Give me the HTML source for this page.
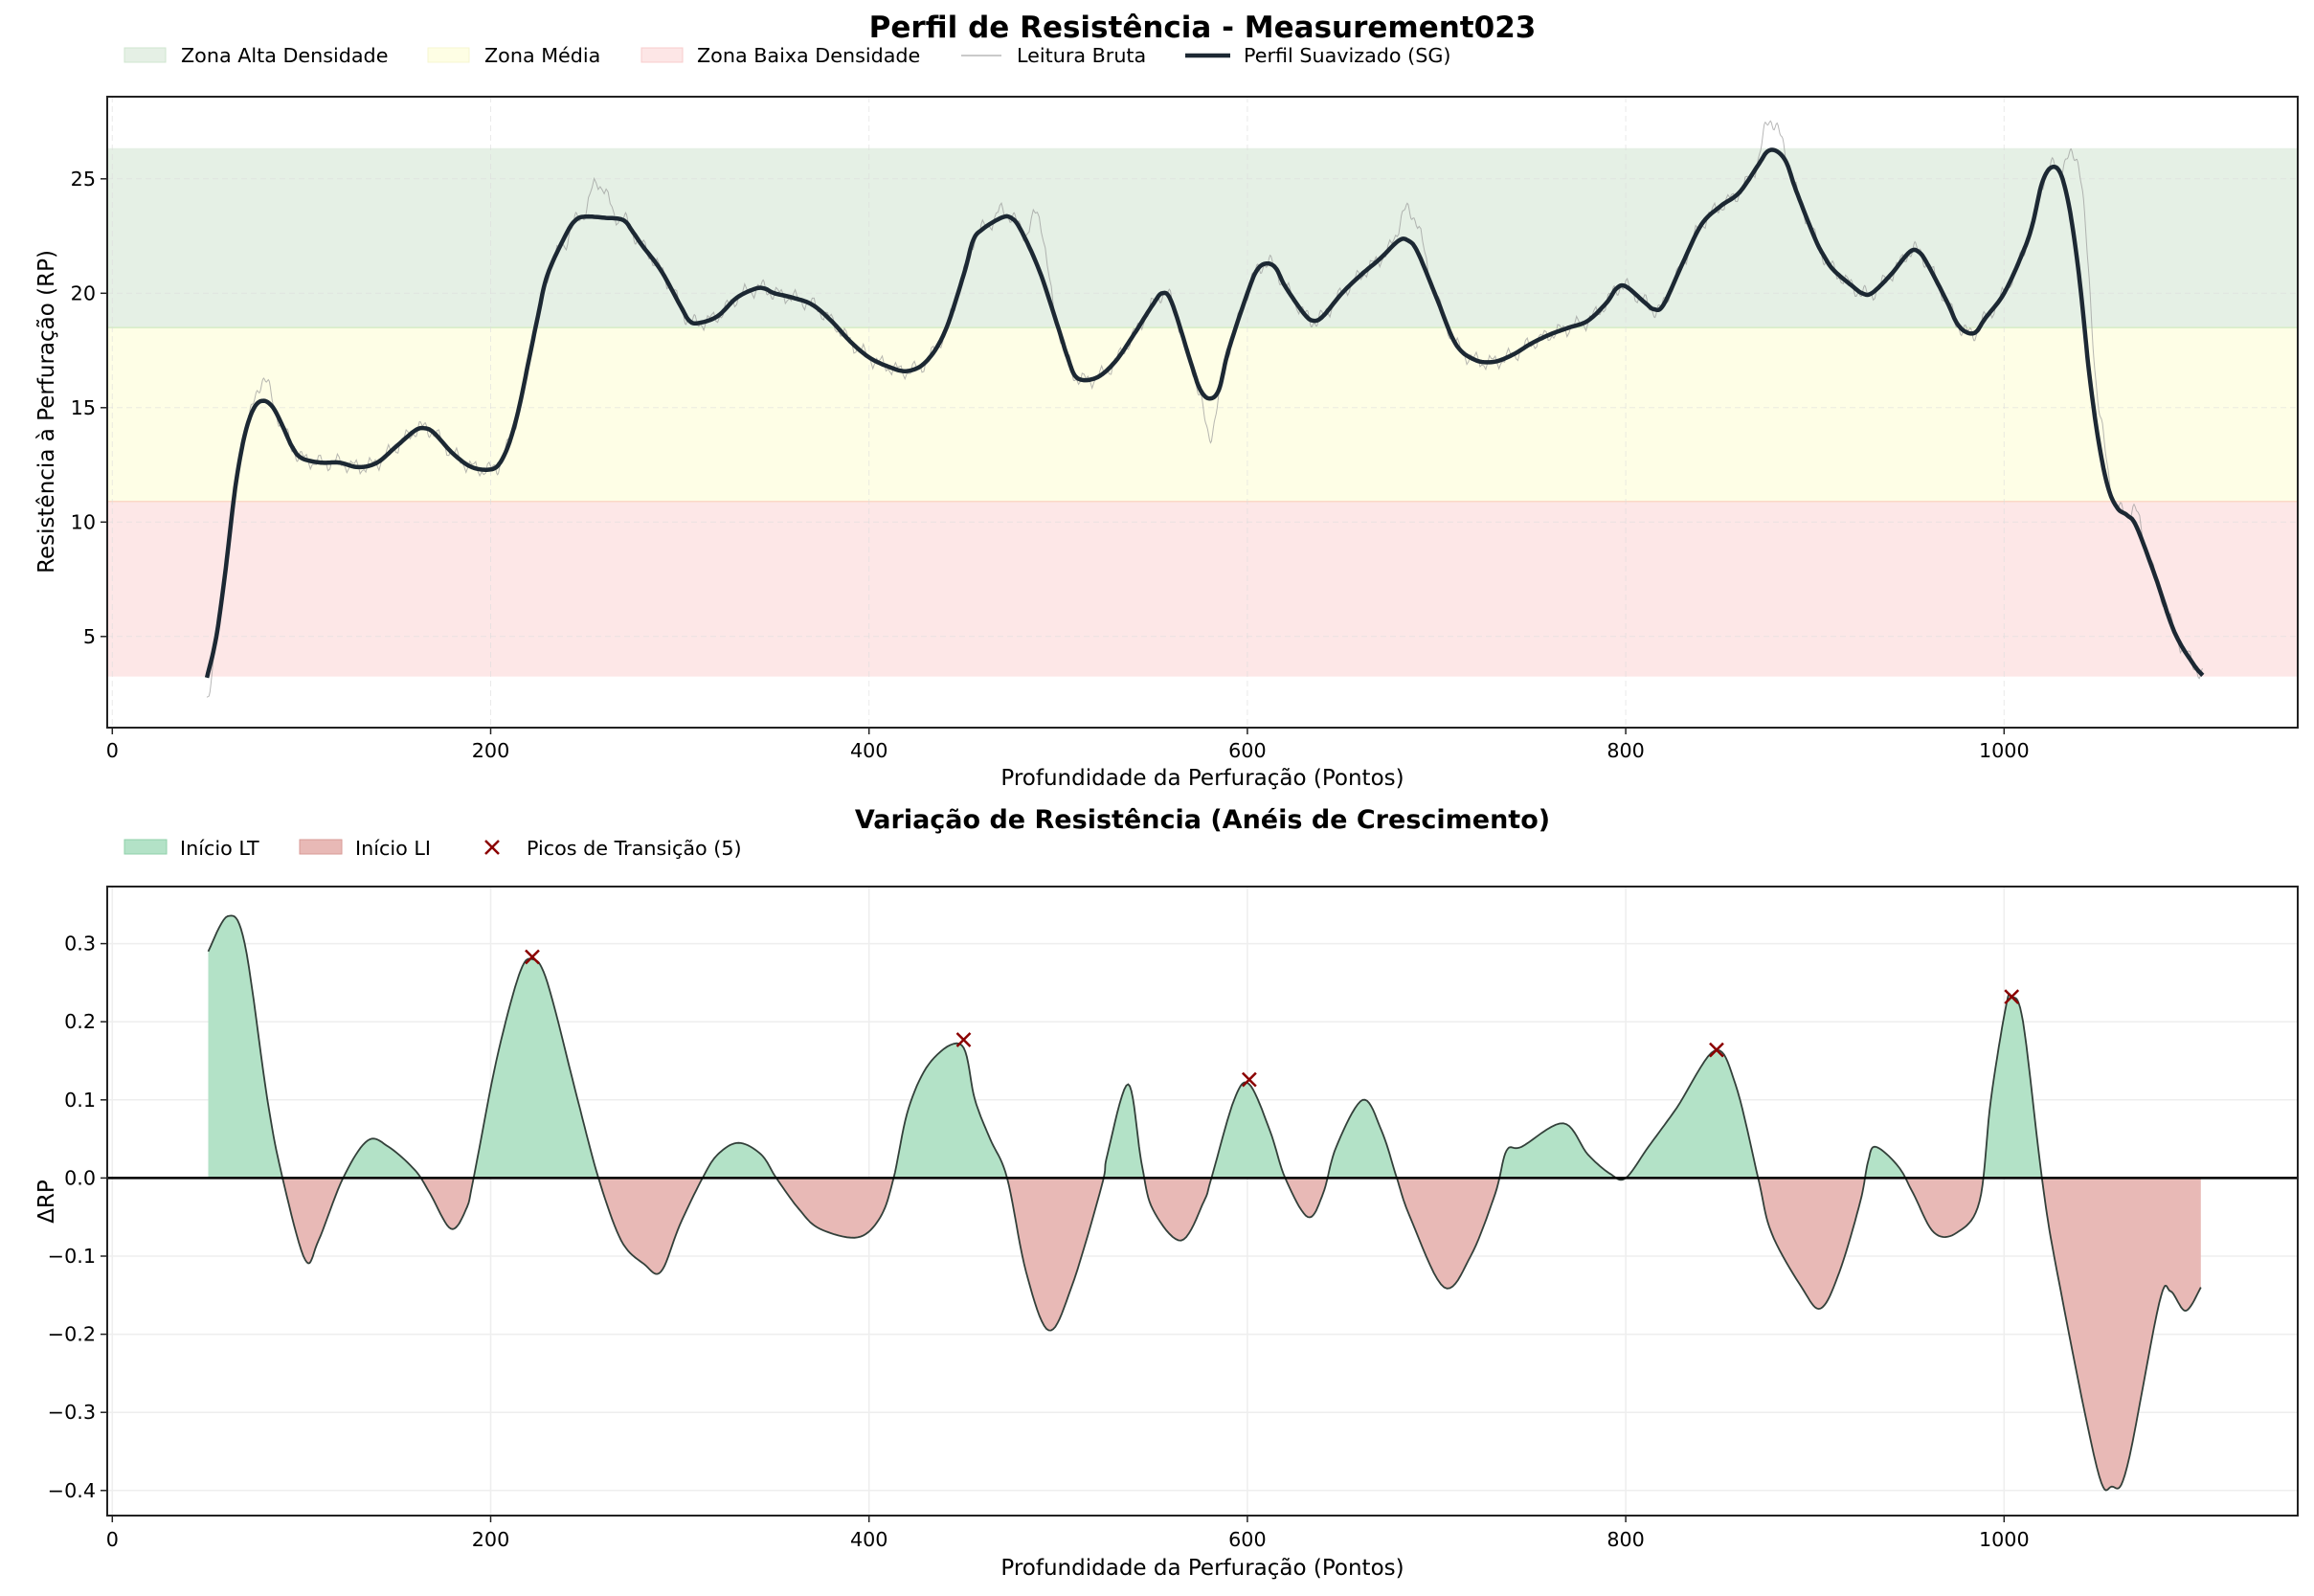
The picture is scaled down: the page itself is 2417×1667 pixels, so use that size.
<!DOCTYPE html>
<html><head><meta charset="utf-8"><style>
html,body{margin:0;padding:0;background:#fff}
svg{display:block}
text{font-family:"DejaVu Sans","Liberation Sans",sans-serif;fill:#000}
</style></head><body>
<svg id="s" width="2417" height="1667" xmlns="http://www.w3.org/2000/svg">
<defs>
<clipPath id="c1"><rect x="112" y="101" width="2288" height="659"/></clipPath>
<clipPath id="pos"><rect x="112" y="926" width="2288" height="304.4"/></clipPath>
<clipPath id="neg"><rect x="112" y="1230.4" width="2288" height="353"/></clipPath>
</defs>
<text x="1256" y="39" font-size="31" font-weight="bold" text-anchor="middle">Perfil de Resistência - Measurement023</text>
<rect x="130" y="50" width="43" height="15" fill="#e5f0e5" stroke="#cfe6cf"/>
<text x="189" y="65" font-size="20.7">Zona Alta Densidade</text>
<rect x="447" y="50" width="43" height="15" fill="#fefee4" stroke="#f6f6d0"/>
<text x="506" y="65" font-size="20.7">Zona Média</text>
<rect x="670" y="50" width="43" height="15" fill="#fde6e6" stroke="#f8cccc"/>
<text x="728" y="65" font-size="20.7">Zona Baixa Densidade</text>
<line x1="1004" y1="58" x2="1046" y2="58" stroke="#aaa" stroke-width="1.2"/>
<text x="1062" y="65" font-size="20.7">Leitura Bruta</text>
<line x1="1238" y1="58" x2="1285" y2="58" stroke="#1c2833" stroke-width="4.5"/>
<text x="1299" y="65" font-size="20.7">Perfil Suavizado (SG)</text>
<g id="gtop"></g>
<text x="1256" y="865" font-size="27" font-weight="bold" text-anchor="middle">Variação de Resistência (Anéis de Crescimento)</text>
<rect x="130" y="877" width="44" height="15" fill="#b3e2c7" stroke="#8fd0aa"/>
<text x="188" y="893" font-size="20.7">Início LT</text>
<rect x="313" y="877" width="44" height="15" fill="#e8b9b6" stroke="#d99a96"/>
<text x="371" y="893" font-size="20.7">Início LI</text>
<path d="M507 878 L521 892 M521 878 L507 892" stroke="#8b0000" stroke-width="2.5"/>
<text x="550" y="893" font-size="20.7">Picos de Transição (5)</text>
<g id="gbot"></g>
<text x="1256" y="820" font-size="23" text-anchor="middle">Profundidade da Perfuração (Pontos)</text>
<text x="1256" y="1645" font-size="23" text-anchor="middle">Profundidade da Perfuração (Pontos)</text>
<text transform="translate(56,430) rotate(-90)" font-size="23" text-anchor="middle">Resistência à Perfuração (RP)</text>
<text transform="translate(56,1255) rotate(-90)" font-size="23" text-anchor="middle">ΔRP</text>
</svg>
<script>
(function(){
var NS="http://www.w3.org/2000/svg";
function X(d){return 117.3+1.976*d}
function Y1(v){return 784.3-23.9*v}
function Y2(v){return 1230.4-816*v}
function el(p,t,a,txt){var e=document.createElementNS(NS,t);for(var k in a)e.setAttribute(k,a[k]);if(txt!=null)e.textContent=txt;p.appendChild(e);return e}
function cr(pts){
 var out=[];for(var i=0;i<pts.length-1;i++){var p0=pts[Math.max(0,i-1)],p1=pts[i],p2=pts[i+1],p3=pts[Math.min(pts.length-1,i+2)];
 for(var j=0;j<10;j++){var t=j/10,t2=t*t,t3=t2*t;
  var f=function(a,b,c,d){return 0.5*(2*b+(-a+c)*t+(2*a-5*b+4*c-d)*t2+(-a+3*b-3*c+d)*t3)};
  out.push([f(p0[0],p1[0],p2[0],p3[0]),f(p0[1],p1[1],p2[1],p3[1])]);}}
 out.push(pts[pts.length-1]);return out}
var S=[[50,3.2],[55,5],[60,8],[65,11.5],[70,13.8],[75,15],[80,15.3],[85,15],[90,14.2],[95,13.3],[100,12.8],[110,12.6],[120,12.6],[130,12.4],[140,12.6],[150,13.3],[160,14],[165,14.1],[170,13.9],[180,13],[190,12.4],[200,12.3],[205,12.6],[210,13.5],[215,15],[220,17],[225,19],[230,20.8],[240,22.6],[245,23.2],[250,23.35],[260,23.3],[270,23.2],[275,22.7],[280,22.1],[290,21],[300,19.5],[305,18.8],[310,18.7],[320,19],[330,19.8],[340,20.2],[345,20.2],[350,20],[360,19.8],[370,19.5],[380,18.8],[390,17.9],[400,17.2],[410,16.8],[420,16.6],[430,17],[440,18.3],[450,20.8],[455,22.3],[460,22.8],[470,23.3],[475,23.3],[480,22.8],[490,21],[500,18.5],[505,17.2],[510,16.3],[520,16.3],[530,17],[540,18.2],[550,19.5],[555,20],[560,19.6],[570,17],[575,15.8],[580,15.4],[585,15.8],[590,17.5],[600,20],[605,21],[610,21.3],[615,21.1],[620,20.3],[630,19.1],[635,18.8],[640,19],[650,20],[660,20.8],[670,21.5],[680,22.3],[685,22.3],[690,21.8],[700,19.8],[710,17.8],[720,17.1],[730,17],[740,17.3],[750,17.8],[760,18.2],[770,18.5],[780,18.8],[790,19.6],[795,20.2],[800,20.3],[810,19.6],[815,19.3],[820,19.5],[830,21.3],[840,23],[850,23.8],[860,24.4],[870,25.6],[875,26.2],[880,26.2],[885,25.7],[890,24.5],[900,22.4],[905,21.6],[910,21],[920,20.3],[925,20],[930,20],[940,20.8],[950,21.8],[955,21.8],[960,21.2],[970,19.6],[975,18.7],[980,18.3],[985,18.3],[990,18.9],[1000,20],[1010,21.8],[1015,23],[1020,24.8],[1025,25.5],[1030,25.2],[1035,23.5],[1040,20.5],[1045,16.5],[1050,13.5],[1055,11.5],[1060,10.6],[1065,10.3],[1070,9.8],[1080,7.6],[1090,5.2],[1100,3.8],[1105,3.3]];
var g1=document.getElementById('gtop');
el(g1,'rect',{x:112,y:Y1(26.34),width:2288,height:Y1(18.5)-Y1(26.34),fill:'#e5f0e5'});
el(g1,'rect',{x:112,y:Y1(18.5),width:2288,height:Y1(10.9)-Y1(18.5),fill:'#fefee6'});
el(g1,'rect',{x:112,y:Y1(10.9),width:2288,height:Y1(3.25)-Y1(10.9),fill:'#fde7e7'});
el(g1,'line',{x1:112,x2:2400,y1:Y1(18.5),y2:Y1(18.5),stroke:'#d6ecc6','stroke-width':1.5});
el(g1,'line',{x1:112,x2:2400,y1:Y1(10.9),y2:Y1(10.9),stroke:'#fbd9c6','stroke-width':1.5});
[5,10,15,20,25].forEach(function(v){el(g1,'line',{x1:112,x2:2400,y1:Y1(v),y2:Y1(v),stroke:'#ddd','stroke-width':1,'stroke-dasharray':'6,4',opacity:0.6});
 el(g1,'line',{x1:105,x2:112,y1:Y1(v),y2:Y1(v),stroke:'#222','stroke-width':1.5});
 el(g1,'text',{x:100,y:Y1(v)+7,'font-size':20.7,'text-anchor':'end'},v)});
[0,200,400,600,800,1000].forEach(function(d){el(g1,'line',{x1:X(d),x2:X(d),y1:101,y2:760,stroke:'#ddd','stroke-width':1,'stroke-dasharray':'6,4',opacity:0.6});
 el(g1,'line',{x1:X(d),x2:X(d),y1:760,y2:767,stroke:'#222','stroke-width':1.5});
 el(g1,'text',{x:X(d),y:791,'font-size':20.7,'text-anchor':'middle'},d);});
var dense=cr(S);
var raw=[];var extra={50:-0.9,80:1.0,255:1.2,260:1.0,240:-0.3,470:0.3,488:1.5,492:1.5,580:-1.6,683:1.2,690:1.3,875:1.1,880:0.8,1035:1.6,1040:4,1045:3,1052:1.2,1070:0.6};
var ek=Object.keys(extra).map(Number);
for(var i=0;i<dense.length;i++){var d=dense[i][0],v=dense[i][1];var n=0.25*Math.sin(d*0.7)+0.15*Math.sin(d*1.9+1);
 for(var q=0;q<ek.length;q++){n+=extra[ek[q]]*Math.exp(-Math.pow((d-ek[q])/4,2));}
 raw.push(X(d).toFixed(1)+','+Y1(v+n).toFixed(1))}
el(g1,'polyline',{points:raw.join(' '),fill:'none',stroke:'#999','stroke-width':1,opacity:0.7,'clip-path':'url(#c1)'});
el(g1,'polyline',{points:dense.map(function(p){return X(p[0]).toFixed(1)+','+Y1(p[1]).toFixed(1)}).join(' '),fill:'none',stroke:'#1c2833','stroke-width':4.5,'stroke-linejoin':'round','clip-path':'url(#c1)'});
el(g1,'rect',{x:112,y:101,width:2288,height:659,fill:'none',stroke:'#222','stroke-width':2});
var B=[[50.7,0.29],[61,0.335],[70,0.3],[82,0.1],[90,0],[102,-0.105],[109,-0.08],[122,0],[135,0.048],[146,0.04],[160,0.01],[168,-0.02],[179,-0.065],[187,-0.04],[191,0],[203,0.15],[215,0.26],[222,0.28],[230,0.25],[246,0.1],[257,0],[269,-0.08],[281,-0.11],[290,-0.12],[300,-0.06],[312,0],[320,0.03],[331,0.045],[343,0.03],[351,0],[363,-0.04],[374,-0.065],[394,-0.076],[406,-0.05],[413,0],[421,0.09],[433,0.15],[449,0.17],[456,0.1],[464,0.05],[473,0],[483,-0.12],[495,-0.195],[507,-0.14],[523,-0.01],[526,0.03],[537,0.12],[544,0.02],[550,-0.04],[565,-0.08],[577,-0.03],[581,0],[593,0.1],[601,0.12],[612,0.06],[620,0],[632,-0.05],[640,-0.02],[647,0.04],[661,0.1],[671,0.06],[679,0],[686,-0.05],[704,-0.14],[718,-0.1],[731,-0.02],[737,0.035],[745,0.04],[767,0.07],[780,0.03],[792,0.005],[800,0],[812,0.04],[827,0.09],[847,0.163],[858,0.12],[870,0],[877,-0.07],[893,-0.14],[903,-0.167],[913,-0.12],[924,-0.03],[928,0.02],[932,0.04],[944,0.015],[952,-0.02],[963,-0.07],[975,-0.07],[987,-0.03],[993,0.1],[1001,0.22],[1004,0.232],[1010,0.2],[1020,0],[1028,-0.12],[1049,-0.37],[1057,-0.395],[1065,-0.37],[1082,-0.16],[1088,-0.145],[1096,-0.17],[1104,-0.14]];
var g2=document.getElementById('gbot');
[-0.4,-0.3,-0.2,-0.1,0,0.1,0.2,0.3].forEach(function(v){el(g2,'line',{x1:112,x2:2400,y1:Y2(v),y2:Y2(v),stroke:'#eee','stroke-width':1.5});
 el(g2,'line',{x1:105,x2:112,y1:Y2(v),y2:Y2(v),stroke:'#222','stroke-width':1.5});
 el(g2,'text',{x:100,y:Y2(v)+7,'font-size':20.7,'text-anchor':'end'},(v<0?'\u2212'+(-v).toFixed(1):v.toFixed(1)))});
[0,200,400,600,800,1000].forEach(function(d){el(g2,'line',{x1:X(d),x2:X(d),y1:926,y2:1583,stroke:'#eee','stroke-width':1.5});
 el(g2,'line',{x1:X(d),x2:X(d),y1:1583,y2:1590,stroke:'#222','stroke-width':1.5});
 el(g2,'text',{x:X(d),y:1615,'font-size':20.7,'text-anchor':'middle'},d);});
var bd=cr(B);var line=bd.map(function(p){return X(p[0]).toFixed(1)+','+Y2(p[1]).toFixed(1)});
var area='M'+X(B[0][0])+','+Y2(0)+' L'+line.join(' L')+' L'+X(B[B.length-1][0])+','+Y2(0)+' Z';
el(g2,'path',{d:area,fill:'#b3e2c7','clip-path':'url(#pos)'});
el(g2,'path',{d:area,fill:'#e8b9b6','clip-path':'url(#neg)'});
el(g2,'polyline',{points:line.join(' '),fill:'none',stroke:'#33403a','stroke-width':1.8});
el(g2,'line',{x1:112,x2:2400,y1:Y2(0),y2:Y2(0),stroke:'#000','stroke-width':2.5});
[[222,0.283],[450,0.177],[601,0.126],[848,0.164],[1004,0.232]].forEach(function(m){var x=X(m[0]),y=Y2(m[1]);
 el(g2,'path',{d:'M'+(x-7)+' '+(y-7)+' L'+(x+7)+' '+(y+7)+' M'+(x+7)+' '+(y-7)+' L'+(x-7)+' '+(y+7),stroke:'#8b0000','stroke-width':2.5})});
el(g2,'rect',{x:112,y:926,width:2288,height:657,fill:'none',stroke:'#222','stroke-width':2});
})();
</script>
</body></html>
